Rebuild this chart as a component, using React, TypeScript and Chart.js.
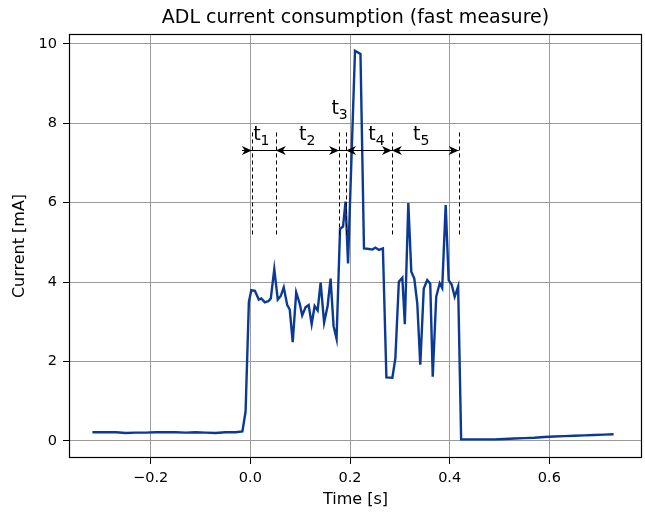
import React, { useEffect, useRef } from 'react';
import { Chart, registerables } from 'chart.js';
Chart.register(...registerables);

// ---- data (time in s, current in mA) ----
const timeS = [
  -0.317, -0.290, -0.270, -0.250, -0.230, -0.210, -0.190, -0.170, -0.150, -0.130,
  -0.110, -0.090, -0.070, -0.050, -0.030, -0.016,
  -0.0096, -0.003, 0.002, 0.009, 0.017, 0.022, 0.029, 0.036, 0.041, 0.048,
  0.055, 0.061, 0.067, 0.074, 0.079, 0.085, 0.092, 0.099, 0.104, 0.111,
  0.117, 0.123, 0.129, 0.135, 0.141, 0.148, 0.155, 0.161, 0.167, 0.173,
  0.180, 0.186, 0.191, 0.196, 0.210, 0.221, 0.228, 0.235, 0.245, 0.251,
  0.258, 0.266, 0.273, 0.285, 0.291, 0.298, 0.305, 0.310, 0.317, 0.323,
  0.329, 0.335, 0.341, 0.348, 0.355, 0.361, 0.366, 0.373, 0.380, 0.385,
  0.392, 0.398, 0.404, 0.410, 0.417, 0.423,
  0.430, 0.450, 0.470, 0.490, 0.510, 0.530, 0.550, 0.570, 0.590, 0.610,
  0.630, 0.650, 0.670, 0.690, 0.710, 0.729,
];
const currentMA = [
  0.22, 0.22, 0.22, 0.20, 0.21, 0.21, 0.22, 0.22, 0.22, 0.21,
  0.22, 0.21, 0.20, 0.22, 0.22, 0.24,
  0.74, 3.50, 3.80, 3.78, 3.56, 3.59, 3.49, 3.52, 3.59, 4.33,
  3.56, 3.65, 3.87, 3.42, 3.31, 2.49, 3.74, 3.46, 3.16, 3.37,
  3.42, 2.94, 3.40, 3.29, 3.99, 2.98, 3.40, 4.09, 2.89, 2.57,
  5.34, 5.40, 6.03, 4.47, 9.83, 9.75, 4.85, 4.84, 4.82, 4.87,
  4.81, 4.85, 1.60, 1.59, 2.08, 4.01, 4.11, 2.94, 5.99, 4.26,
  4.09, 3.46, 1.92, 3.84, 4.05, 3.96, 1.62, 3.63, 3.97, 3.85,
  5.94, 4.05, 3.94, 3.63, 3.89, 0.04,
  0.04, 0.04, 0.04, 0.04, 0.05, 0.06, 0.07, 0.08, 0.10, 0.11,
  0.12, 0.13, 0.14, 0.15, 0.16, 0.17,
];

const xTicks = [-0.2, 0.0, 0.2, 0.4, 0.6];
const yTicks = [0, 2, 4, 6, 8, 10];
const chartTitle = 'ADL current consumption (fast measure)';

// ---- annotation (data coordinates) ----
const markerTimes = [0.003, 0.051, 0.178, 0.192, 0.284, 0.418];
const markerTop = 7.77;
const markerBottom = 5.14;
const arrowLevel = 7.32;
const arrowStart = -0.017;
const arrowEnd = 0.418;
const headTimes = [0.003, 0.051, 0.178, 0.192, 0.284, 0.284, 0.418];
const headDirs = [1, -1, 1, -1, 1, -1, 1]; // 1: points right, -1: points left
const labelSubs = ['1', '2', '3', '4', '5'];
const labelTimes = [0.022, 0.114, 0.179, 0.253, 0.343];
const labelLevels = [7.59, 7.59, 8.23, 7.59, 7.59];

const FONT = "'DejaVu Sans', sans-serif";

const annotationPlugin = {
  id: 'intervals',
  afterDatasetsDraw(chart: any) {
    const { ctx, scales } = chart;
    const xs = scales.x;
    const ys = scales.y;
    ctx.save();
    ctx.strokeStyle = '#000';
    ctx.fillStyle = '#000';
    // dashed markers
    ctx.lineWidth = 1;
    ctx.setLineDash([4, 3]);
    markerTimes.forEach((t) => {
      const px = Math.round(xs.getPixelForValue(t)) + 0.5;
      ctx.beginPath();
      ctx.moveTo(px, ys.getPixelForValue(markerTop));
      ctx.lineTo(px, ys.getPixelForValue(markerBottom));
      ctx.stroke();
    });
    ctx.setLineDash([]);
    // horizontal arrow line
    const ay = Math.round(ys.getPixelForValue(arrowLevel)) + 0.5;
    ctx.beginPath();
    ctx.moveTo(xs.getPixelForValue(arrowStart), ay);
    ctx.lineTo(xs.getPixelForValue(arrowEnd), ay);
    ctx.stroke();
    // heads
    headTimes.forEach((t, i) => {
      const tip = xs.getPixelForValue(t);
      const d = headDirs[i];
      ctx.beginPath();
      ctx.moveTo(tip, ay);
      ctx.lineTo(tip - d * 10, ay - 4.5);
      ctx.lineTo(tip - d * 7, ay);
      ctx.lineTo(tip - d * 10, ay + 4.5);
      ctx.closePath();
      ctx.fill();
    });
    // labels
    ctx.textBaseline = 'alphabetic';
    ctx.textAlign = 'left';
    labelSubs.forEach((s, i) => {
      const cx = xs.getPixelForValue(labelTimes[i]);
      const by = ys.getPixelForValue(labelLevels[i]);
      ctx.font = `19px ${FONT}`;
      const wm = ctx.measureText('t').width;
      ctx.font = `14px ${FONT}`;
      const ws = ctx.measureText(s).width;
      const x0 = cx - (wm + ws) / 2;
      ctx.font = `19px ${FONT}`;
      ctx.fillText('t', x0, by);
      ctx.font = `14px ${FONT}`;
      ctx.fillText(s, x0 + wm, by + 5);
    });
    ctx.restore();
  },
  afterDraw(chart: any) {
    const { ctx, chartArea } = chart;
    ctx.save();
    ctx.strokeStyle = '#000';
    ctx.lineWidth = 1.2;
    ctx.strokeRect(
      Math.round(chartArea.left) + 0.5,
      Math.round(chartArea.top) + 0.5,
      Math.round(chartArea.right - chartArea.left) - 1,
      Math.round(chartArea.bottom - chartArea.top) - 1
    );
    // title centred over the plot area
    ctx.fillStyle = '#000';
    ctx.font = `19px ${FONT}`;
    ctx.textAlign = 'center';
    ctx.textBaseline = 'middle';
    ctx.fillText(chartTitle, (chartArea.left + chartArea.right) / 2, 18);
    ctx.restore();
  },
};

export default function App() {
  const ref = useRef<HTMLCanvasElement>(null);
  useEffect(() => {
    document.body.style.margin = '0';
    const canvas = ref.current!;
    const chart = new Chart(canvas, {
      type: 'line',
      data: {
        datasets: [
          {
            data: timeS.map((t, i) => ({ x: t, y: currentMA[i] })),
            borderColor: '#0a3a96',
            borderWidth: 2.4,
            pointRadius: 0,
            tension: 0,
            fill: false,
          },
        ],
      },
      options: {
        animation: false,
        responsive: false,
        devicePixelRatio: 1,
        layout: { padding: { left: 0, right: 3, top: 34, bottom: 0 } },
        plugins: {
          legend: { display: false },
          tooltip: { enabled: false },
          title: { display: false },
        },
        scales: {
          x: {
            type: 'linear',
            min: -0.364,
            max: 0.786,
            afterBuildTicks: (s: any) => {
              s.ticks = xTicks.map((v) => ({ value: v }));
            },
            afterFit: (s: any) => {
              s.height = 54;
            },
            ticks: {
              color: '#000',
              font: { family: FONT, size: 14.5 },
              padding: 6,
              maxRotation: 0,
              callback: (v: any) => {
                const n = Number(v);
                return n < 0 ? '\u2212' + Math.abs(n).toFixed(1) : n.toFixed(1);
              },
            },
            grid: { color: '#9a9a9a', lineWidth: 1, tickLength: 6, tickColor: '#000' },
            border: { display: false },
            title: {
              display: true,
              text: 'Time [s]',
              color: '#000',
              font: { family: FONT, size: 16 },
              padding: { top: 0, bottom: 2.4 },
            },
          },
          y: {
            type: 'linear',
            min: -0.43,
            max: 10.25,
            afterBuildTicks: (s: any) => {
              s.ticks = yTicks.map((v) => ({ value: v }));
            },
            afterFit: (s: any) => {
              s.width = 69;
            },
            ticks: {
              color: '#000',
              font: { family: FONT, size: 14.5 },
              padding: 6,
              callback: (v: any) => String(v),
            },
            grid: { color: '#9a9a9a', lineWidth: 1, tickLength: 6, tickColor: '#000' },
            border: { display: false },
            title: {
              display: true,
              text: 'Current [mA]',
              color: '#000',
              font: { family: FONT, size: 16 },
              padding: { top: 10.4, bottom: 0 },
            },
          },
        },
      },
      plugins: [annotationPlugin],
    });
    return () => chart.destroy();
  }, []);
  return (
    <div style={{ width: 645, height: 512 }}>
      <canvas ref={ref} width={645} height={512} />
    </div>
  );
}
